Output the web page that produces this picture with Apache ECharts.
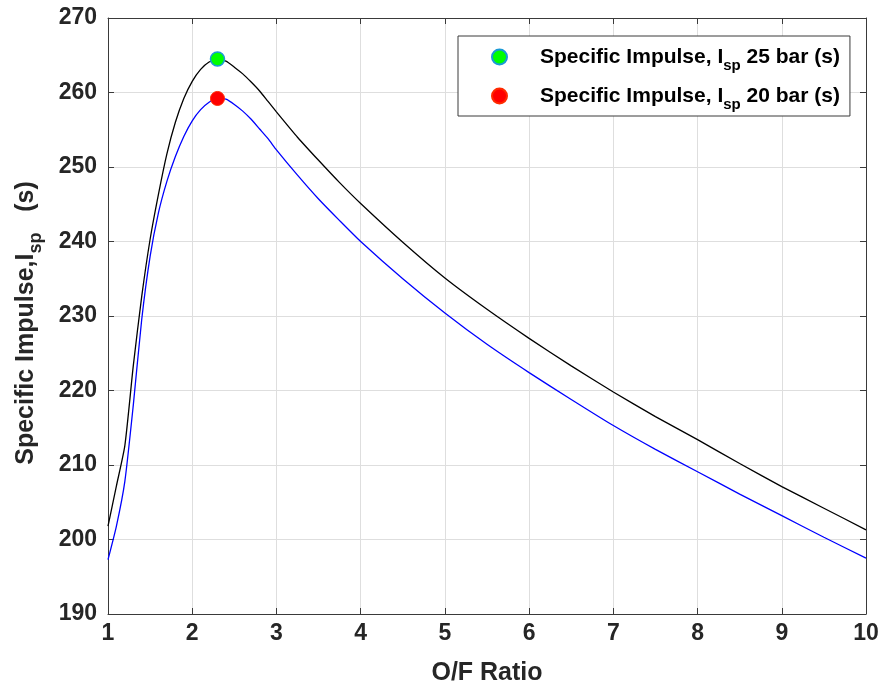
<!DOCTYPE html>
<html>
<head>
<meta charset="utf-8">
<script src="https://cdn.jsdelivr.net/npm/echarts@6/dist/echarts.min.js"></script>
<style>html,body{margin:0;padding:0;background:#fff}#c{width:884px;height:686px}</style>
</head>
<body>
<div id="c"></div>
<script>
const ofRatio = [1.0, 1.1, 1.2, 1.3, 1.4, 1.5, 1.6, 1.7, 1.8, 1.9, 2.0, 2.1, 2.2, 2.3, 2.4, 2.5, 2.6, 2.7, 2.8, 2.9, 3.0, 3.25, 3.5, 3.75, 4.0, 4.5, 5.0, 5.5, 6.0, 6.5, 7.0, 7.5, 8.0, 8.5, 9.0, 9.5, 10.0];
const isp25 = [201.8, 207.2, 212.6, 223.3, 232.6, 240.3, 246.4, 251.8, 256.0, 259.2, 261.5, 263.1, 264.1, 264.4, 264.2, 263.4, 262.5, 261.4, 260.2, 258.8, 257.4, 254.0, 250.9, 247.9, 245.1, 239.9, 235.1, 230.9, 227.0, 223.3, 219.8, 216.5, 213.4, 210.2, 207.1, 204.2, 201.3];
const isp20 = [197.3, 201.8, 207.8, 218.0, 229.5, 238.0, 243.9, 248.1, 251.4, 254.1, 256.2, 257.7, 258.7, 259.2, 259.1, 258.4, 257.5, 256.4, 255.1, 253.8, 252.3, 248.9, 245.7, 242.8, 240.0, 235.0, 230.4, 226.2, 222.4, 218.8, 215.3, 212.1, 209.1, 206.1, 203.2, 200.3, 197.5];
const peak25 = [2.3, 264.5];
const peak20 = [2.3, 259.2];
const xTicks = [1, 10, 1];
const yTicks = [190, 270, 10];
const legendNames = ['Specific Impulse, Isp 25 bar (s)', 'Specific Impulse, Isp 20 bar (s)'];
const legendRich = {
  'Specific Impulse, Isp 25 bar (s)': '{n|Specific Impulse, I}{s|sp}{n| 25 bar (s)}',
  'Specific Impulse, Isp 20 bar (s)': '{n|Specific Impulse, I}{s|sp}{n| 20 bar (s)}'
};

const FONT = '"Liberation Sans", Arial, Helvetica, sans-serif';
const TXT = '#262626';
const AX = '#3a3a3a';

const zip = (xs, ys) => xs.map((x, i) => [x, ys[i]]);

const chart = echarts.init(document.getElementById('c'), null, {renderer: 'canvas'});
chart.setOption({
  animation: false,
  backgroundColor: '#fff',
  grid: {left: 108, right: 18, top: 18, bottom: 72, containLabel: false, outerBoundsMode: 'none'},
  legend: {
    data: legendNames,
    orient: 'vertical',
    left: 458,
    top: 36,
    padding: [5, 10, 4, 33],
    itemGap: 7,
    itemWidth: 15,
    itemHeight: 15,
    icon: 'circle',
    backgroundColor: '#fff',
    borderColor: AX,
    borderWidth: 1,
    borderRadius: 0,
    formatter: name => legendRich[name],
    textStyle: {
      padding: [0, 0, 0, 28],
      rich: {
        n: {fontFamily: FONT, fontWeight: 'bold', fontSize: 21, color: '#000', lineHeight: 24},
        s: {fontFamily: FONT, fontWeight: 'bold', fontSize: 15, color: '#000', lineHeight: 15, padding: [17, 0, 0, 0]}
      }
    }
  },
  xAxis: [{
    type: 'value', min: xTicks[0], max: xTicks[1], interval: xTicks[2],
    name: 'O/F Ratio', nameLocation: 'middle', nameGap: 47,
    nameTextStyle: {fontFamily: FONT, fontWeight: 'bold', fontSize: 25, color: TXT},
    axisLine: {show: true, lineStyle: {color: AX, width: 1}},
    axisTick: {show: true, inside: true, length: 6, lineStyle: {color: AX}},
    axisLabel: {fontFamily: FONT, fontWeight: 'bold', fontSize: 23, color: TXT, margin: 8},
    splitLine: {show: true, lineStyle: {color: '#dedede', width: 1}}
  }, {
    type: 'value', position: 'top', min: xTicks[0], max: xTicks[1], interval: xTicks[2],
    axisLine: {show: true, lineStyle: {color: AX, width: 1}},
    axisTick: {show: true, inside: true, length: 6, lineStyle: {color: AX}},
    axisLabel: {show: false}, splitLine: {show: false}
  }],
  yAxis: [{
    type: 'value', min: yTicks[0], max: yTicks[1], interval: yTicks[2],
    name: '{n|Specific Impulse,I}{s|sp}{n|   (s)  }', nameLocation: 'middle', nameGap: 68, nameRotate: 90,
    nameTextStyle: {
      rich: {
        n: {fontFamily: FONT, fontWeight: 'bold', fontSize: 25, color: TXT, lineHeight: 28},
        s: {fontFamily: FONT, fontWeight: 'bold', fontSize: 18, color: TXT, lineHeight: 18, padding: [20, 0, 0, 0]}
      }
    },
    axisLine: {show: true, lineStyle: {color: AX, width: 1}},
    axisTick: {show: true, inside: true, length: 6, lineStyle: {color: AX}},
    axisLabel: {fontFamily: FONT, fontWeight: 'bold', fontSize: 23, color: TXT, margin: 11},
    splitLine: {show: true, lineStyle: {color: '#dedede', width: 1}}
  }, {
    type: 'value', position: 'right', min: yTicks[0], max: yTicks[1], interval: yTicks[2],
    axisLine: {show: true, lineStyle: {color: AX, width: 1}},
    axisTick: {show: true, inside: true, length: 6, lineStyle: {color: AX}},
    axisLabel: {show: false}, splitLine: {show: false}
  }],
  series: [{
    type: 'line', name: 'line25', data: zip(ofRatio, isp25),
    smooth: 0.2, showSymbol: false, symbol: 'none',
    lineStyle: {color: '#000', width: 1.3}, itemStyle: {color: '#000'}, z: 2
  }, {
    type: 'line', name: 'line20', data: zip(ofRatio, isp20),
    smooth: 0.2, showSymbol: false, symbol: 'none',
    lineStyle: {color: '#0000ff', width: 1.3}, itemStyle: {color: '#0000ff'}, z: 2
  }, {
    type: 'scatter', name: legendNames[0], data: [peak25], symbol: 'circle', symbolSize: 14,
    itemStyle: {color: '#00ff00', borderColor: '#1a9ad6', borderWidth: 1.5, opacity: 1}, z: 3
  }, {
    type: 'scatter', name: legendNames[1], data: [peak20], symbol: 'circle', symbolSize: 14,
    itemStyle: {color: '#ff0000', borderColor: '#ff2a00', borderWidth: 1, opacity: 1}, z: 3
  }]
});
</script>
</body>
</html>
